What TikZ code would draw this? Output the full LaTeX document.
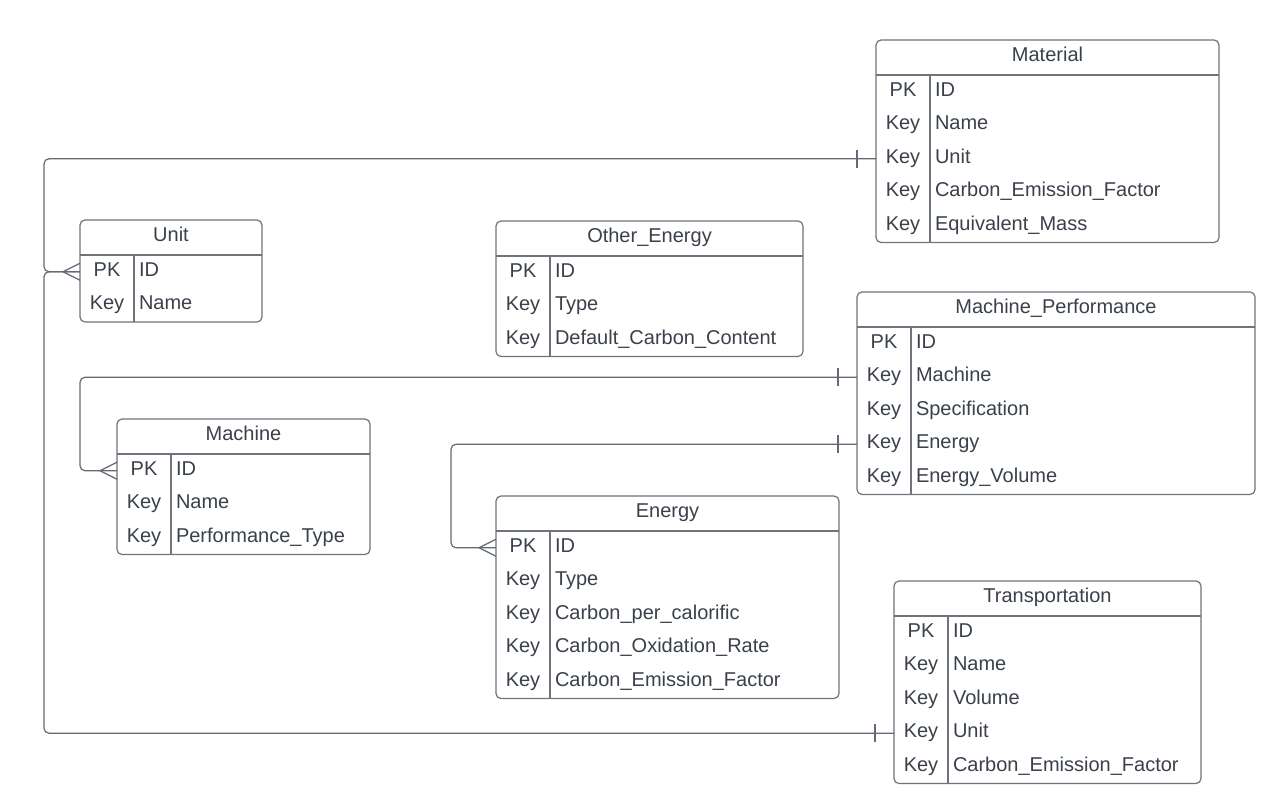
\documentclass[tikz,border=0pt]{standalone}
\usepackage{fontspec}
\setmainfont{Liberation Sans}
\definecolor{boxc}{RGB}{110,115,124}
\definecolor{linec}{RGB}{100,106,115}
\definecolor{txtc}{RGB}{58,65,74}
\tikzset{
  erbox/.style={draw=boxc, line width=1.2pt, rounded corners=5pt, inner sep=0pt, outer sep=0pt, anchor=north west},
  sepline/.style={draw=boxc, line width=1.2pt},
  txt/.style={text=txtc, font=\fontsize{20}{23}\selectfont, inner sep=0pt, outer sep=0pt},
  conn/.style={draw=linec, line width=1.2pt, rounded corners=5pt},
  tick/.style={draw=linec, line width=1.2pt}
}
\newcommand\ertable[7]{%
  \node[erbox, minimum width=#4pt, minimum height={(35+33.5*#5)*1pt}] (#1) at (#2,#3) {};
  \node[txt, anchor=base] (#1-title) at ([yshift=-21.5pt]#1.north) {#6};
  \draw[sepline] ([yshift=-35pt]#1.north west) -- ([yshift=-35pt]#1.north east);
  \draw[sepline] ([xshift=54pt,yshift=-35pt]#1.north west) -- ([xshift=54pt]#1.south west);
  \foreach \k/\f [count=\i] in {#7} {
    \coordinate (#1-r\i) at ([yshift={-(35+33.5*\i-16.75)*1pt}]#1.north west);
    \node[txt, anchor=base] (#1-k\i) at ([xshift=27pt, yshift={-(35+33.5*(\i-1)+21)*1pt}]#1.north west) {\k};
    \node[txt, anchor=base west] (#1-f\i) at ([xshift=59pt, yshift={-(35+33.5*(\i-1)+21)*1pt}]#1.north west) {\f};
  }
}
\newcommand\crowfoot[1]{%
  \draw[tick] ([xshift=-17pt]#1) -- ([yshift=8.5pt]#1);
  \draw[tick] ([xshift=-17pt]#1) -- ([yshift=-8.5pt]#1);
}
\newcommand\onebar[1]{%
  \draw[tick] ([xshift=-19pt,yshift=9pt]#1) -- ([xshift=-19pt,yshift=-9pt]#1);
}
\begin{document}
\begin{tikzpicture}[x=1pt,y=-1pt]
\useasboundingbox[fill=white] (0,0) rectangle (1271,792);

\ertable{material}{876}{40}{343}{5}{Material}{PK/ID, Key/Name, Key/Unit, Key/Carbon\_Emission\_Factor, Key/Equivalent\_Mass}
\ertable{unit}{80}{220}{182}{2}{Unit}{PK/ID, Key/Name}
\ertable{other}{496}{221}{307}{3}{Other\_Energy}{PK/ID, Key/Type, Key/Default\_Carbon\_Content}
\ertable{mp}{857}{292}{398}{5}{Machine\_Performance}{PK/ID, Key/Machine, Key/Specification, Key/Energy, Key/Energy\_Volume}
\ertable{machine}{117}{419}{253}{3}{Machine}{PK/ID, Key/Name, Key/Performance\_Type}
\ertable{energy}{496}{496}{343}{5}{Energy}{PK/ID, Key/Type, Key/Carbon\_per\_calorific, Key/Carbon\_Oxidation\_Rate, Key/Carbon\_Emission\_Factor}
\ertable{transport}{894}{581}{307}{5}{Transportation}{PK/ID, Key/Name, Key/Volume, Key/Unit, Key/Carbon\_Emission\_Factor}

% Unit -- Material
\draw[conn] (unit-r1) -- ++(-36,0) |- (material-r3);
% Unit -- Transportation
\draw[conn] (unit-r1) -- ++(-36,0) |- (transport-r4);
% Machine -- Machine_Performance
\draw[conn] (machine-r1) -- ++(-37,0) |- (mp-r2);
% Energy -- Machine_Performance
\draw[conn] (energy-r1) -- ++(-45,0) |- (mp-r4);

\crowfoot{unit-r1}
\crowfoot{machine-r1}
\crowfoot{energy-r1}
\onebar{material-r3}
\onebar{transport-r4}
\onebar{mp-r2}
\onebar{mp-r4}
\end{tikzpicture}
\end{document}
